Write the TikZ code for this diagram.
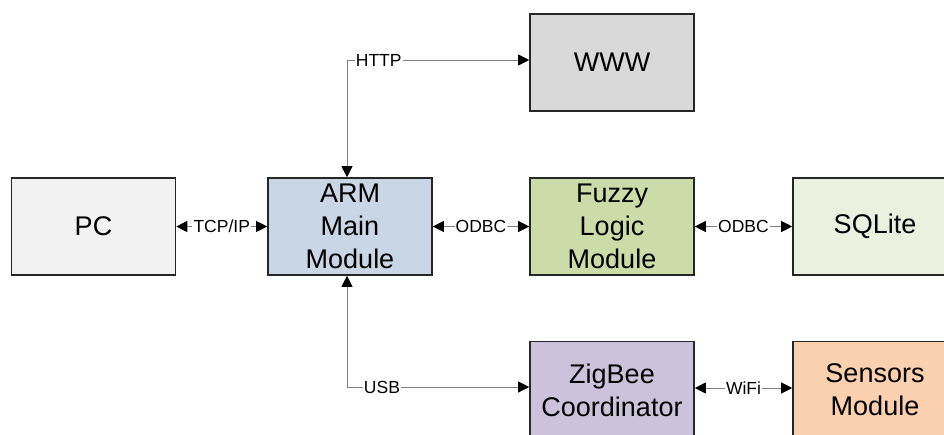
\documentclass[tikz,border=0pt]{standalone}
\usepackage{fontspec}
\setmainfont{Liberation Sans}
\usetikzlibrary{arrows.meta}
\definecolor{pcfill}{HTML}{F2F2F2}
\definecolor{armfill}{HTML}{C9D6E6}
\definecolor{wwwfill}{HTML}{D9D9D9}
\definecolor{fuzzyfill}{HTML}{CCDCA9}
\definecolor{sqlfill}{HTML}{EBF1DE}
\definecolor{zigfill}{HTML}{CDC2DB}
\definecolor{sensfill}{HTML}{FAD0AE}
\definecolor{edgecol}{HTML}{7F7F7F}
\tikzset{
  block/.style={draw=black!85, line width=1.6pt, minimum width=164pt, minimum height=97pt,
    inner sep=0pt, align=center, font=\fontsize{27}{33}\selectfont},
  link/.style={draw=edgecol, line width=0.9pt, {Triangle[length=11pt,width=11pt,fill=black,color=black]}-{Triangle[length=11pt,width=11pt,fill=black,color=black]}},
  lab/.style={fill=white, inner sep=1.2pt, font=\fontsize{17.5}{20}\selectfont}
}
\begin{document}
\begin{tikzpicture}[x=1pt,y=-1pt]
\useasboundingbox (0,0) rectangle (944,434);
\clip (0,0) rectangle (944,434);
\node[block, fill=pcfill] (pc) at (93.5,226.5) {PC};
\node[block, fill=armfill] (arm) at (350,226.5) {ARM\\Main\\Module};
\node[block, fill=wwwfill] (www) at (612,62.5) {WWW};
\node[block, fill=fuzzyfill] (fuzzy) at (612,226.5) {Fuzzy\\Logic\\Module};
\node[block, fill=sqlfill] (sql) at (875,226.5) {SQLite};
\node[block, fill=zigfill] (zig) at (612,390) {ZigBee\\Coordinator};
\node[block, fill=sensfill] (sens) at (875,390) {Sensors\\Module};

\draw[link] (pc.east) -- node[lab] {TCP/IP} (arm.west);
\draw[link] (arm.east) -- node[lab] {ODBC} (fuzzy.west);
\draw[link] (fuzzy.east) -- node[lab] {ODBC} (sql.west);
\draw[link] ([yshift=2pt]zig.east) -- node[lab] {WiFi} ([yshift=2pt]sens.west);
\draw[link] ([xshift=-3pt]arm.north) |- node[lab, pos=0.587] {HTTP} ([yshift=2.5pt]www.west);
\draw[link] ([xshift=-3pt]arm.south) |- node[lab, pos=0.596] {USB} ([yshift=3pt]zig.west);
\end{tikzpicture}
\end{document}
